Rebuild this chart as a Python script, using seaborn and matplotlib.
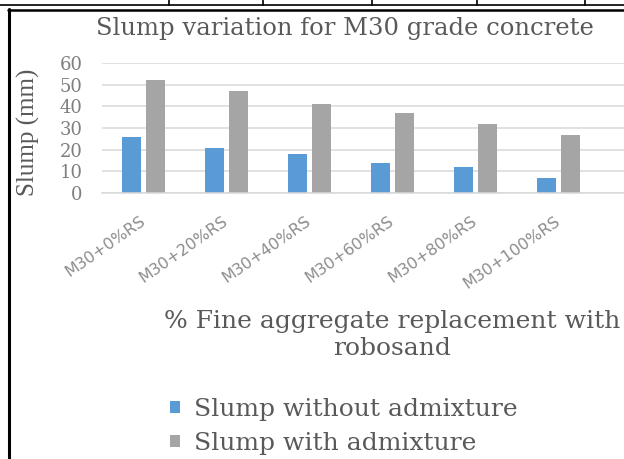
import matplotlib
matplotlib.use("Agg")
import matplotlib.pyplot as plt
from matplotlib.lines import Line2D
import seaborn as sns
import pandas as pd

# Slump test results for M30 concrete with robosand replacing fine aggregate
categories = ["M30+0%RS", "M30+20%RS", "M30+40%RS", "M30+60%RS", "M30+80%RS", "M30+100%RS"]
slump_without = [26, 21, 18, 14, 12, 7]
slump_with = [52, 47, 41, 37, 32, 27]
series_names = ["Slump without admixture", "Slump with admixture"]
y_ticks = [0, 10, 20, 30, 40, 50, 60]

df = pd.DataFrame({
    "mix": categories * 2,
    "slump": slump_without + slump_with,
    "series": [series_names[0]] * len(categories) + [series_names[1]] * len(categories),
})

sns.set_theme(style="white")
plt.rcParams["font.family"] = ["DejaVu Serif"]

W, H = 624, 459
fig = plt.figure(figsize=(W / 100, H / 100), dpi=100)
fig.patch.set_facecolor("white")

def fx(px):
    return px / W

def fy(py):
    return 1 - py / H

ax = fig.add_axes([fx(102), fy(193), fx(624) - fx(102), fy(63) - fy(193)])

palette = {series_names[0]: "#5B9BD5", series_names[1]: "#A5A5A5"}
sns.barplot(data=df, x="mix", y="slump", hue="series", palette=palette,
            order=categories, hue_order=series_names,
            width=0.565, gap=0.2, saturation=1, linewidth=0,
            ax=ax, legend=True)

ax.set_ylim(0, 60)
ax.set_xlim(-0.5, -0.5 + 522 / 83)
ax.set_yticks(y_ticks)
ax.yaxis.grid(True, color="#D9D9D9", linewidth=1.1)
ax.set_axisbelow(True)
for side in ["top", "right", "left"]:
    ax.spines[side].set_visible(False)
ax.spines["bottom"].set_color("#D9D9D9")
ax.spines["bottom"].set_linewidth(1.1)

ax.set_xlabel("")
ax.set_ylabel("")
ax.tick_params(axis="y", length=0, pad=14, labelsize=13, labelcolor="#7F7F7F")
ax.tick_params(axis="x", length=0, pad=19)
ax.set_xticks(range(len(categories)))
ax.set_xticklabels(categories, rotation=35, ha="right", va="center",
                   rotation_mode="anchor", fontsize=11.5, color="#8C8C8C",
                   family="DejaVu Sans")

# legend placed below the axis title
handles, labels = ax.get_legend_handles_labels()
ax.get_legend().remove()
fig.legend(handles, labels, loc="upper left",
           bbox_to_anchor=(fx(170), fy(398)), frameon=False,
           prop={"family": "DejaVu Serif", "size": 18},
           labelcolor="#595959", handlelength=0.42, handleheight=0.36,
           handletextpad=0.55, labelspacing=0.43, borderpad=0, borderaxespad=0)

# titles
fig.text(fx(345), fy(29), "Slump variation for M30 grade concrete",
         ha="center", va="center", fontsize=17.5, color="#595959")
fig.text(fx(392), fy(335), "% Fine aggregate replacement with\nrobosand",
         ha="center", va="center", fontsize=18, color="#595959",
         linespacing=1.25)
fig.text(fx(28), fy(132), "Slump (mm)", rotation=90, ha="center", va="center",
         fontsize=18, color="#595959", family="Liberation Serif")

# surrounding document table border
fig.add_artist(Line2D([0, 1], [fy(5), fy(5)], transform=fig.transFigure,
                      color="black", linewidth=1.2))
for xp in [169, 263, 372, 477, 585]:
    fig.add_artist(Line2D([fx(xp), fx(xp)], [1, fy(5)], transform=fig.transFigure,
                          color="black", linewidth=1.2))
fig.add_artist(Line2D([fx(8), 1], [fy(10), fy(10)], transform=fig.transFigure,
                      color="black", linewidth=1.8))
fig.add_artist(Line2D([fx(8.5), fx(8.5)], [fy(9), 0], transform=fig.transFigure,
                      color="black", linewidth=2.2))

fig.savefig("out.png", dpi=100, facecolor="white")
